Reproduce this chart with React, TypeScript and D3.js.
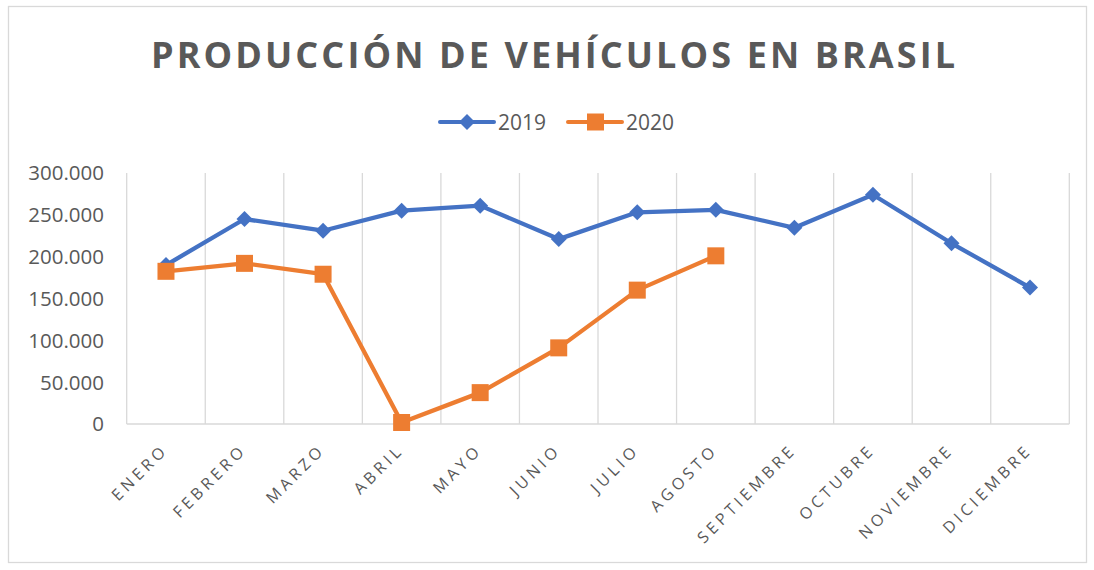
import React from "react";
import * as d3 from "d3";

const months = ["ENERO", "FEBRERO", "MARZO", "ABRIL", "MAYO", "JUNIO", "JULIO", "AGOSTO", "SEPTIEMBRE", "OCTUBRE", "NOVIEMBRE", "DICIEMBRE"];
const series2019 = [190000, 245000, 231000, 255000, 261000, 221000, 253000, 256000, 234500, 274000, 216000, 163000];
const series2020 = [182500, 192000, 179000, 1800, 37500, 91000, 160000, 201000];
const yTicks = [0, 50000, 100000, 150000, 200000, 250000, 300000];
const seriesNames = ["2019", "2020"];
const title = "PRODUCCIÓN DE VEHÍCULOS EN BRASIL";

const W = 1094;
const H = 570;
const BLUE = "#4472C4";
const ORANGE = "#ED7D31";
const GRID = "#D9D9D9";
const TEXT = "#595959";
const FONT = "'Open Sans', sans-serif";

const locale = d3.formatLocale({ decimal: ",", thousands: ".", grouping: [3], currency: ["", ""] });
const fmt = locale.format(",");

export default function App() {
  const x = d3.scaleBand<string>().domain(months).range([126.7, 1069.3]).padding(0);
  const y = d3.scaleLinear().domain([0, 300000]).range([424, 173]);
  const cx = (i: number) => (x(months[i]) as number) + x.bandwidth() / 2;

  const line = d3
    .line<number>()
    .x((_, i) => cx(i))
    .y((d) => y(d));

  const diamond = d3.symbol(d3.symbolSquare, 128)() as string;
  const square = d3.symbol(d3.symbolSquare, 289)() as string;

  const boundaries = d3.range(months.length + 1).map((i) =>
    i < months.length ? (x(months[i]) as number) : (x(months[months.length - 1]) as number) + x.bandwidth()
  );

  return (
    <svg width={W} height={H} style={{ position: "absolute", left: 0, top: 0, background: "#fff" }}>
      <rect x={8.5} y={6.5} width={1078} height={556} fill="#fff" stroke={GRID} strokeWidth={1.3} />
      <text
        x={151}
        y={68}
        textLength={804}
        lengthAdjust="spacing"
        fontFamily={FONT}
        fontWeight={700}
        fontSize={36}
        fill={TEXT}
      >
        {title}
      </text>

      {/* legend */}
      <g>
        <line x1={440} x2={494} y1={122} y2={122} stroke={BLUE} strokeWidth={4} strokeLinecap="round" />
        <path d={diamond} transform={`translate(467,122) rotate(45)`} fill={BLUE} />
        <text x={498} y={122} dy="0.36em" fontFamily={FONT} fontSize={21} fill={TEXT}>
          {seriesNames[0]}
        </text>
        <line x1={568} x2={622} y1={122} y2={122} stroke={ORANGE} strokeWidth={4} strokeLinecap="round" />
        <path d={square} transform={`translate(595.5,122)`} fill={ORANGE} />
        <text x={626} y={122} dy="0.36em" fontFamily={FONT} fontSize={21} fill={TEXT}>
          {seriesNames[1]}
        </text>
      </g>

      {/* vertical gridlines */}
      {boundaries.map((bx, i) => (
        <line key={i} x1={bx} x2={bx} y1={y(300000)} y2={y(0)} stroke={GRID} strokeWidth={1.3} />
      ))}
      <line x1={boundaries[0]} x2={boundaries[boundaries.length - 1]} y1={y(0)} y2={y(0)} stroke={GRID} strokeWidth={1.5} />

      {/* y tick labels */}
      {yTicks.map((t) => (
        <text key={t} x={104} y={y(t)} dy="0.36em" textAnchor="end" fontFamily={FONT} fontSize={20.5} fill={TEXT}>
          {fmt(t)}
        </text>
      ))}

      {/* x labels */}
      {months.map((m, i) => (
        <text
          key={m}
          transform={`translate(${cx(i) + 3},451) rotate(-45)`}
          textAnchor="end"
          fontFamily={FONT}
          fontSize={16}
          letterSpacing={3.9}
          fill={TEXT}
        >
          {m}
        </text>
      ))}

      {/* series */}
      <path d={line(series2019) as string} fill="none" stroke={BLUE} strokeWidth={4.3} strokeLinejoin="round" />
      <path d={line(series2020) as string} fill="none" stroke={ORANGE} strokeWidth={4.3} strokeLinejoin="round" />
      {series2019.map((v, i) => (
        <path key={`a${i}`} d={diamond} transform={`translate(${cx(i)},${y(v)}) rotate(45)`} fill={BLUE} />
      ))}
      {series2020.map((v, i) => (
        <path key={`b${i}`} d={square} transform={`translate(${cx(i)},${y(v)})`} fill={ORANGE} />
      ))}
    </svg>
  );
}
